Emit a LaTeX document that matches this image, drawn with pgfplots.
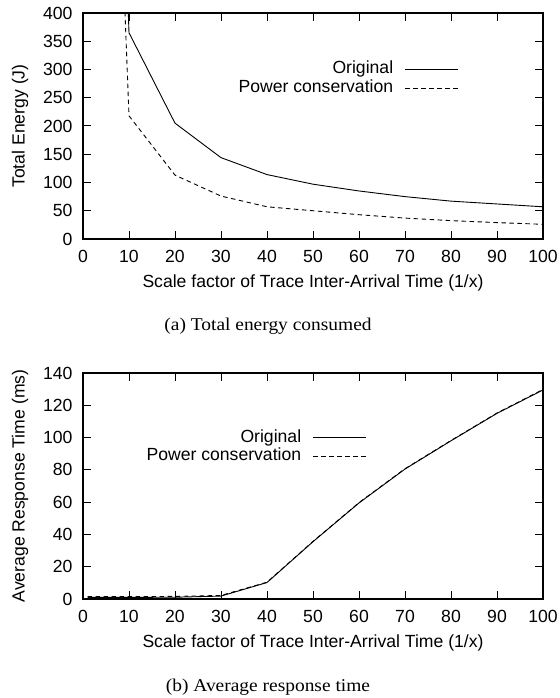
\documentclass[border=0pt]{standalone}
\usepackage{pgfplots}
\pgfplotsset{compat=1.18}
\usepackage{fontspec}
\setmainfont{Liberation Sans}
\newfontfamily\capfont[FakeStretch=1.08]{Liberation Serif}
\begin{document}
\begin{tikzpicture}
\useasboundingbox (0pt,0pt) rectangle (559pt,698pt);
\pgfplotsset{
  every axis/.append style={
    scale only axis, width=460pt, height=226pt,
    xmin=0, xmax=100, xtick={0,10,...,100},
    tick align=inside, major tick length=8pt,
    axis line style={line width=1.1pt},
    major tick style={line width=1pt, black},
    font=\fontsize{17.6}{20}\selectfont,
    /pgf/number format/assume math mode=true,
    xlabel={Scale factor of Trace Inter-Arrival Time (1/x)},
    xlabel style={at={(axis description cs:0.5,-0.195)}, anchor=center},
    ylabel style={at={(axis description cs:-0.137,0.5)}, anchor=center},
    xticklabel style={yshift=-8pt},
    yticklabel style={xshift=-7pt},
    legend cell align=right, legend plot pos=right,
    legend style={draw=none, fill=none, inner sep=0pt, row sep=0pt,
      nodes={inner sep=1pt, text height=12.5pt, text depth=4pt}},
    legend image code/.code={\path[draw=none, fill=none] (0pt,-0.5pt) rectangle (1pt,0.5pt); \draw[#1] (11pt,0pt) -- (64pt,0pt);},
  }
}
\begin{axis}[at={(83pt,459pt)}, anchor=south west,
  ymin=0, ymax=400, ytick={0,50,...,400},
  ylabel={Total Energy (J)},
  legend style={at={(axis description cs:0.817,0.708)}, anchor=east}]
\addplot[black, line width=0.9pt] coordinates {
(1,2460)(10,365)(20,205)(30,144)(40,114)(50,97)(60,85)(70,75)(80,67)(90,62)(100,57)};
\addlegendentry{Original}
\addplot[black, line width=0.9pt, dash pattern=on 4.5pt off 3.5pt] coordinates {
(1,2100)(10,218)(20,113)(30,76)(40,57)(50,50)(60,43)(70,37)(80,32.5)(90,29)(100,26)};
\addlegendentry{Power conservation}
\end{axis}
\begin{axis}[at={(83pt,99pt)}, anchor=south west,
  ymin=0, ymax=140, ytick={0,20,...,140},
  ylabel={Average Response Time (ms)},
  legend style={at={(axis description cs:0.617,0.672)}, anchor=east}]
\addplot[black, line width=0.9pt] coordinates {
(1,1.0)(10,1.0)(20,1.1)(30,1.8)(40,10.2)(50,35.5)(60,59.5)(70,80.5)(80,98)(90,115)(100,129.5)};
\addlegendentry{Original}
\addplot[black, line width=0.9pt, dash pattern=on 4.5pt off 3.5pt] coordinates {
(1,1.5)(10,1.5)(20,1.6)(30,2.2)(40,10.4)(50,35.7)(60,59.7)(70,80.7)(80,98.2)(90,115.2)(100,129.8)};
\addlegendentry{Power conservation}
\end{axis}
\node[anchor=base, font=\capfont\fontsize{18}{21}\selectfont] at (268pt,367pt) {(a) Total energy consumed};
\node[anchor=base, font=\capfont\fontsize{18}{21}\selectfont] at (268pt,6pt) {(b) Average response time};
\end{tikzpicture}
\end{document}
